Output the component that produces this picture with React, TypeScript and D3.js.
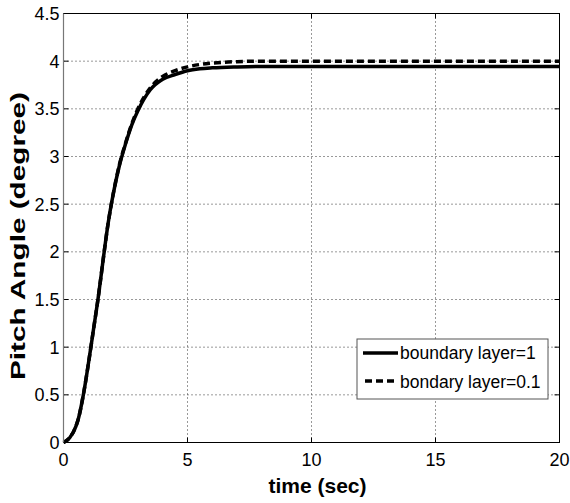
import React from 'react';
import * as d3 from 'd3';

// time samples (sec) and the two pitch responses
const timeSec = [0, 0.25, 0.5, 0.6, 0.8, 1.0, 1.2, 1.4, 1.6, 1.8, 2.0, 2.25, 2.5, 2.75, 3.0, 3.5, 4.0, 4.5, 5.0, 5.5, 6, 7, 8, 10, 15, 20];
const layer1 = [0, 0.05, 0.17, 0.25, 0.5, 0.82, 1.17, 1.52, 1.92, 2.3, 2.6, 2.9, 3.13, 3.33, 3.48, 3.7, 3.81, 3.86, 3.9, 3.92, 3.93, 3.94, 3.945, 3.945, 3.945, 3.945];
const layer01 = [0, 0.05, 0.17, 0.25, 0.5, 0.82, 1.17, 1.52, 1.92, 2.3, 2.6, 2.91, 3.14, 3.34, 3.5, 3.72, 3.84, 3.9, 3.94, 3.965, 3.98, 3.995, 4.0, 4.0, 4.0, 4.0];

const xTicks = [0, 5, 10, 15, 20];
const yTicks = [0, 0.5, 1, 1.5, 2, 2.5, 3, 3.5, 4, 4.5];
const legendLabels = ['boundary layer=1', 'bondary layer=0.1'];

const W = 570;
const H = 503;
const left = 63.5, right = 559.5, top = 13.5, bottom = 442.5;

export default function App() {
  const x = d3.scaleLinear().domain([0, 20]).range([left, right]);
  const y = d3.scaleLinear().domain([0, 4.5]).range([bottom, top]);
  const pts = (vals: number[]) => timeSec.map((t, i) => [t, vals[i]] as [number, number]);
  const line = d3.line<[number, number]>()
    .x(d => x(d[0]))
    .y(d => y(d[1]))
    .curve(d3.curveMonotoneX);

  const font = 'Arial, "Liberation Sans", Helvetica, sans-serif';
  const lgX = 357, lgY = 339, lgW = 191, lgH = 60;

  return (
    <svg width={W} height={H} style={{ position: 'fixed', left: 0, top: 0, background: '#fff' }} fontFamily={font}>
      <rect x={0} y={0} width={W} height={H} fill="#fff" />
      {/* grid */}
      {xTicks.slice(1, -1).map(t => (
        <line key={'gx' + t} x1={x(t)} x2={x(t)} y1={top} y2={bottom} stroke="#333" strokeWidth={1} strokeDasharray="1,3" />
      ))}
      {yTicks.slice(1, -1).map(t => (
        <line key={'gy' + t} x1={left} x2={right} y1={y(t)} y2={y(t)} stroke="#333" strokeWidth={1} strokeDasharray="1,3" />
      ))}
      {/* tick marks */}
      {xTicks.map(t => (
        <g key={'tx' + t}>
          <line x1={x(t)} x2={x(t)} y1={bottom} y2={bottom - 5} stroke="#000" />
          <line x1={x(t)} x2={x(t)} y1={top} y2={top + 5} stroke="#000" />
        </g>
      ))}
      {yTicks.map(t => (
        <g key={'ty' + t}>
          <line x1={left} x2={left + 5} y1={y(t)} y2={y(t)} stroke="#000" />
          <line x1={right} x2={right - 5} y1={y(t)} y2={y(t)} stroke="#000" />
        </g>
      ))}
      {/* curves */}
      <path d={line(pts(layer01)) || ''} fill="none" stroke="#000" strokeWidth={3.5} strokeDasharray="7,4" />
      <path d={line(pts(layer1)) || ''} fill="none" stroke="#000" strokeWidth={3.5} />
      {/* box */}
      <rect x={left} y={top} width={right - left} height={bottom - top} fill="none" stroke="#000" strokeWidth={1} />
      <line x1={left} x2={left} y1={top} y2={bottom} stroke="#777" strokeWidth={1.2} />
      {/* tick labels */}
      {xTicks.map(t => (
        <text key={'lx' + t} x={x(t)} y={bottom + 23} textAnchor="middle" fontSize={18}>{t}</text>
      ))}
      {yTicks.map(t => (
        <text key={'ly' + t} x={left - 4} y={y(t) + 6.5} textAnchor="end" fontSize={18}>{t}</text>
      ))}
      {/* axis titles */}
      <text x={(left + right) / 2 + 6} y={493} textAnchor="middle" fontSize={21} fontWeight="bold">time (sec)</text>
      <text transform={`translate(25,236) rotate(-90)`} textAnchor="middle" fontSize={21} fontWeight="bold"
        textLength={288} lengthAdjust="spacingAndGlyphs">Pitch Angle (degree)</text>
      {/* legend */}
      <rect x={lgX} y={lgY} width={lgW} height={lgH} fill="#fff" stroke="#555" strokeWidth={1} />
      <line x1={363} x2={398} y1={353} y2={353} stroke="#000" strokeWidth={3.5} />
      <line x1={365} x2={398} y1={381} y2={381} stroke="#000" strokeWidth={3.5} strokeDasharray="7,4" />
      {legendLabels.map((l, i) => (
        <text key={l} x={400} y={359 + i * 28.5} fontSize={17.5}>{l}</text>
      ))}
    </svg>
  );
}
